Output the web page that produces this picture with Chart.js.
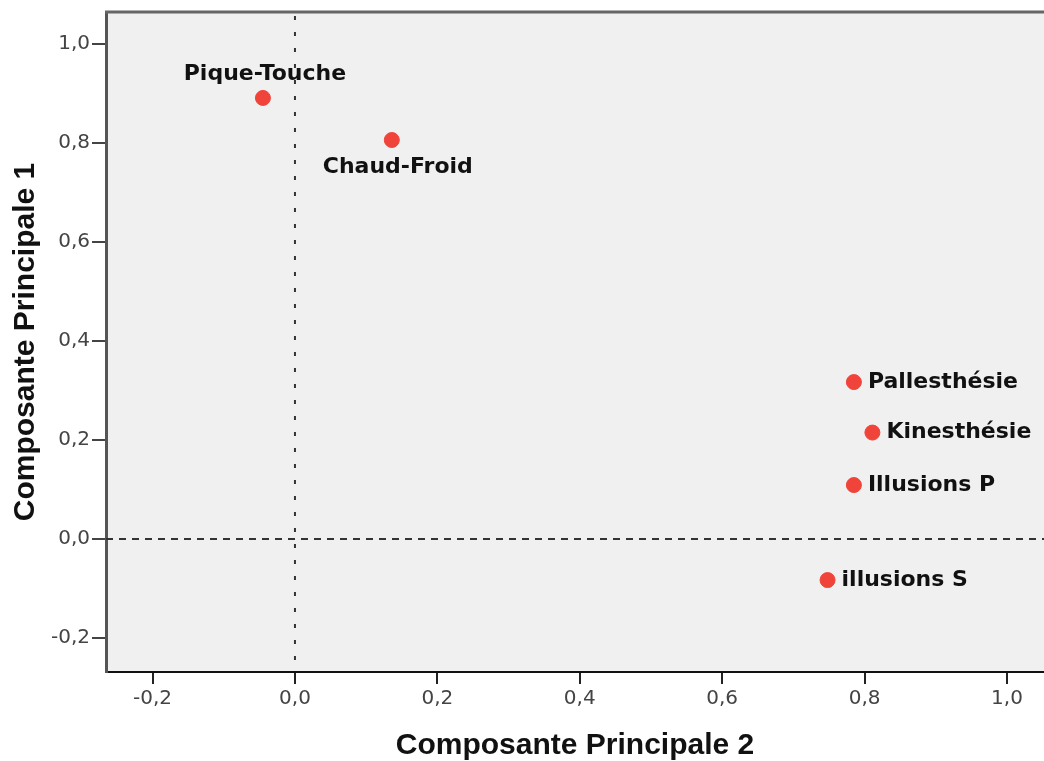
<!DOCTYPE html>
<html>
<head>
<meta charset="utf-8">
<script src="https://cdn.jsdelivr.net/npm/chart.js@4.4.1/dist/chart.umd.min.js"></script>
<style>
  html, body { margin: 0; padding: 0; background: #fff; }
  #wrap { width: 1044px; height: 761px; }
</style>
</head>
<body>
<div id="wrap"><canvas id="myChart" width="1044" height="761"></canvas></div>
<script>
// variables (loadings)
const labels = ["Pique-Touche", "Chaud-Froid", "Pallesthésie", "Kinesthésie", "Illusions P", "illusions S"];
const comp2 = [-0.045, 0.136, 0.785, 0.811, 0.785, 0.748];
const comp1 = [0.891, 0.806, 0.317, 0.215, 0.109, -0.083];

// tick labels
const xTicks = [-0.2, 0, 0.2, 0.4, 0.6, 0.8, 1.0];
const yTicks = [-0.2, 0, 0.2, 0.4, 0.6, 0.8, 1.0];

// where each label goes relative to its point
const labelSide = ["above", "below", "right", "right", "right", "right"];

const fmt = v => v.toFixed(1).replace(".", ",");

const plotBg = {
    id: "plotBg",
    beforeDraw(chart) {
        const { ctx, chartArea: a } = chart;
        ctx.save();
        ctx.fillStyle = "#f0f0f0";
        ctx.fillRect(a.left, a.top, a.right - a.left, a.bottom - a.top);
        ctx.restore();
    },
    beforeDatasetsDraw(chart) {
        const { ctx, chartArea: a, scales } = chart;
        const x0 = scales.x.getPixelForValue(0);
        const y0 = scales.y.getPixelForValue(0);
        ctx.save();
        ctx.strokeStyle = "#333";
        ctx.lineWidth = 2;
        // horizontal zero line
        ctx.setLineDash([7, 6]);
        ctx.beginPath();
        ctx.moveTo(a.left, y0);
        ctx.lineTo(a.right, y0);
        ctx.stroke();
        // vertical zero line
        ctx.setLineDash([4, 12]);
        ctx.beginPath();
        ctx.moveTo(x0, a.top + 4);
        ctx.lineTo(x0, a.bottom);
        ctx.stroke();
        ctx.setLineDash([]);
        // top frame
        ctx.strokeStyle = "#666";
        ctx.lineWidth = 3;
        ctx.beginPath();
        ctx.moveTo(a.left - 1, a.top);
        ctx.lineTo(a.right, a.top);
        ctx.stroke();
        ctx.restore();
    },
    afterDatasetsDraw(chart) {
        const { ctx } = chart;
        const meta = chart.getDatasetMeta(0);
        ctx.save();
        ctx.font = "bold 22px 'DejaVu Sans'";
        ctx.fillStyle = "#111";
        ctx.textBaseline = "middle";
        meta.data.forEach((pt, i) => {
            const side = labelSide[i];
            if (side === "above") {
                ctx.textAlign = "center";
                ctx.fillText(labels[i], pt.x + 2, pt.y - 24);
            } else if (side === "below") {
                ctx.textAlign = "center";
                ctx.fillText(labels[i], pt.x + 6, pt.y + 27);
            } else {
                ctx.textAlign = "left";
                ctx.fillText(labels[i], pt.x + 14, pt.y);
            }
        });
        ctx.restore();
    },
};

const ctx = document.getElementById("myChart");
const chart = new Chart(ctx, {
    type: "scatter",
    data: {
        datasets: [
            {
                data: comp2.map((x, i) => ({ x: x, y: comp1[i] })),
                backgroundColor: "#f0433a",
                borderColor: "#f0433a",
                pointRadius: 7.5,
                pointHoverRadius: 7.5,
            },
        ],
    },
    options: {
        responsive: false,
        devicePixelRatio: 1,
        animation: false,
        layout: { autoPadding: false, padding: { top: 12, right: 0, left: 0, bottom: 0 } },
        plugins: {
            legend: { display: false },
            tooltip: { enabled: false },
        },
        scales: {
            x: {
                type: "linear",
                min: -0.2654,
                max: 1.052,
                afterBuildTicks: s => { s.ticks = xTicks.map(v => ({ value: v })); },
                afterFit: s => { s.height = 89; s.paddingLeft = 0; s.paddingRight = 0; },
                ticks: {
                    callback: v => fmt(v),
                    font: { family: "DejaVu Sans", size: 20 },
                    color: "#444",
                    padding: 3,
                    maxRotation: 0,
                },
                grid: {
                    drawOnChartArea: false,
                    drawTicks: true,
                    tickLength: 12,
                    color: "#222",
                    lineWidth: 2,
                },
                border: { display: true, color: "#111", width: 2 },
                title: {
                    display: true,
                    text: "Composante Principale 2",
                    font: { family: "Liberation Sans", size: 30, weight: "bold", lineHeight: 1 },
                    color: "#111",
                    padding: { top: 3, bottom: 0 },
                },
            },
            y: {
                type: "linear",
                min: -0.2687,
                max: 1.0646,
                afterBuildTicks: s => { s.ticks = yTicks.map(v => ({ value: v })); },
                afterFit: s => { s.width = 106; s.paddingTop = 0; s.paddingBottom = 0; },
                ticks: {
                    callback: v => fmt(v),
                    font: { family: "DejaVu Sans", size: 20 },
                    color: "#444",
                    padding: 2,
                },
                grid: {
                    drawOnChartArea: false,
                    drawTicks: true,
                    tickLength: 14,
                    color: "#444",
                    lineWidth: 2,
                },
                border: { display: true, color: "#555", width: 3 },
                title: {
                    display: true,
                    text: "Composante Principale 1",
                    font: { family: "Liberation Sans", size: 30, weight: "bold", lineHeight: 1 },
                    color: "#111",
                    padding: { top: 11, bottom: 0 },
                },
            },
        },
    },
    plugins: [plotBg],
});
</script>
</body>
</html>
